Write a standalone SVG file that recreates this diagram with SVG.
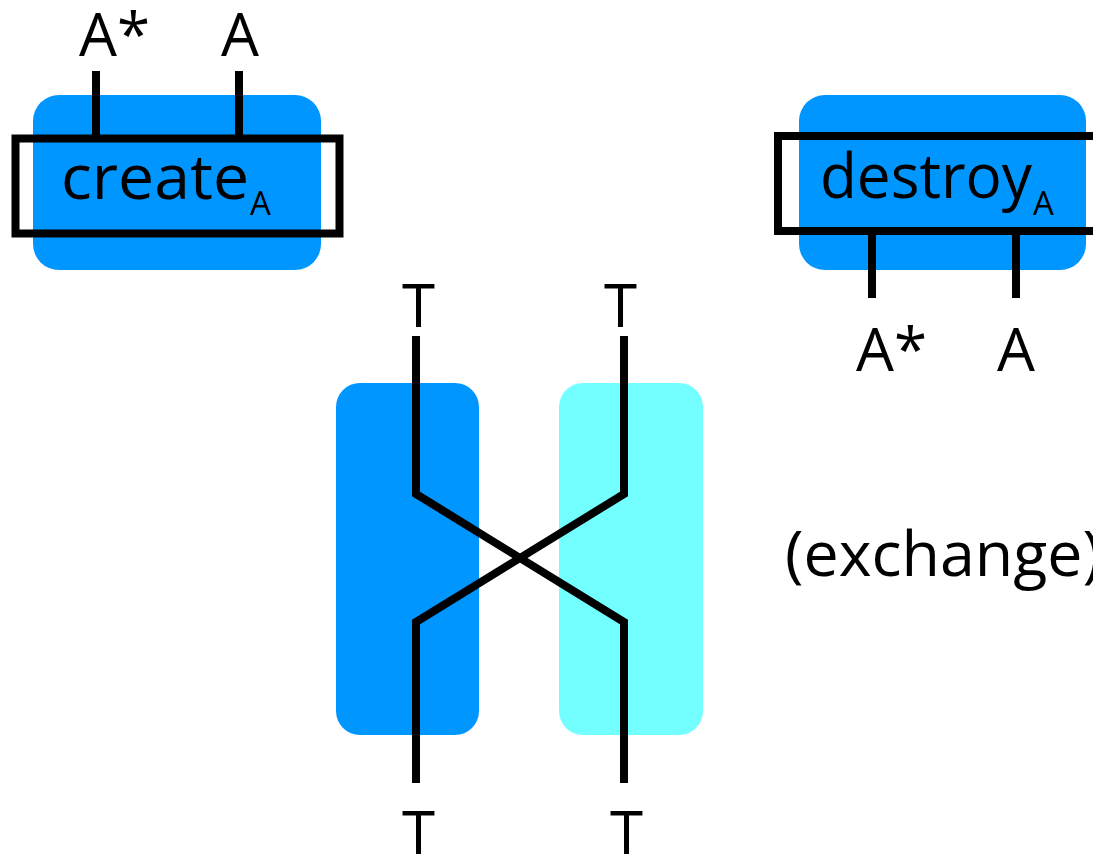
<svg xmlns="http://www.w3.org/2000/svg" width="1093" height="856" viewBox="0 0 1093 856">
<style>
.blue{fill:#0096FF}
.cyan{fill:#73FFFF}
.frame{fill:none;stroke:#000;stroke-width:8}
.wire{fill:none;stroke:#000;stroke-width:8;stroke-linejoin:miter}
text{font-family:"Open Sans","DejaVu Sans",sans-serif;fill:#000}
.lbl{font-size:60px}
.big{font-size:63px}
.sub{font-size:33px}
</style>
<rect width="1093" height="856" fill="#fff"/>
<g id="create">
<rect class="blue" x="33" y="95" width="288" height="175" rx="26"/>
<rect class="frame" x="15.5" y="138.5" width="324" height="95"/>
<text class="big" x="61" y="199" textLength="188" lengthAdjust="spacingAndGlyphs">create</text>
<text class="sub" x="250" y="215">A</text>
<text class="lbl" x="79" y="56">A*</text>
<text class="lbl" x="221" y="56">A</text>
</g>
<g id="destroy">
<rect class="blue" x="799" y="95" width="287" height="175" rx="26"/>
<rect class="frame" x="778" y="136" width="330" height="95"/>
<text class="big" x="820" y="198" textLength="212" lengthAdjust="spacingAndGlyphs">destroy</text>
<text class="sub" x="1033" y="215">A</text>
<text class="lbl" x="856" y="371">A*</text>
<text class="lbl" x="997" y="371">A</text>
</g>
<g id="exchange">
<rect class="blue" x="336" y="383" width="143" height="352" rx="24"/>
<rect class="cyan" x="559" y="383" width="144" height="352" rx="24"/>
<text class="lbl" x="402" y="327">T</text>
<text class="lbl" x="604" y="327">T</text>
<text class="lbl" x="402" y="854">T</text>
<text class="lbl" x="610" y="854">T</text>
<text class="big" x="785" y="576" textLength="316" lengthAdjust="spacingAndGlyphs">(exchange)</text>
</g>
<g id="connectors">
<line class="wire" x1="96" y1="71" x2="96" y2="138"/>
<line class="wire" x1="239" y1="71" x2="239" y2="138"/>
<line class="wire" x1="872" y1="231" x2="872" y2="298"/>
<line class="wire" x1="1016" y1="231" x2="1016" y2="298"/>
<path class="wire" d="M416 336 V494 L624 622 V783"/>
<path class="wire" d="M624 336 V494 L416 622 V783"/>
</g>
</svg>
